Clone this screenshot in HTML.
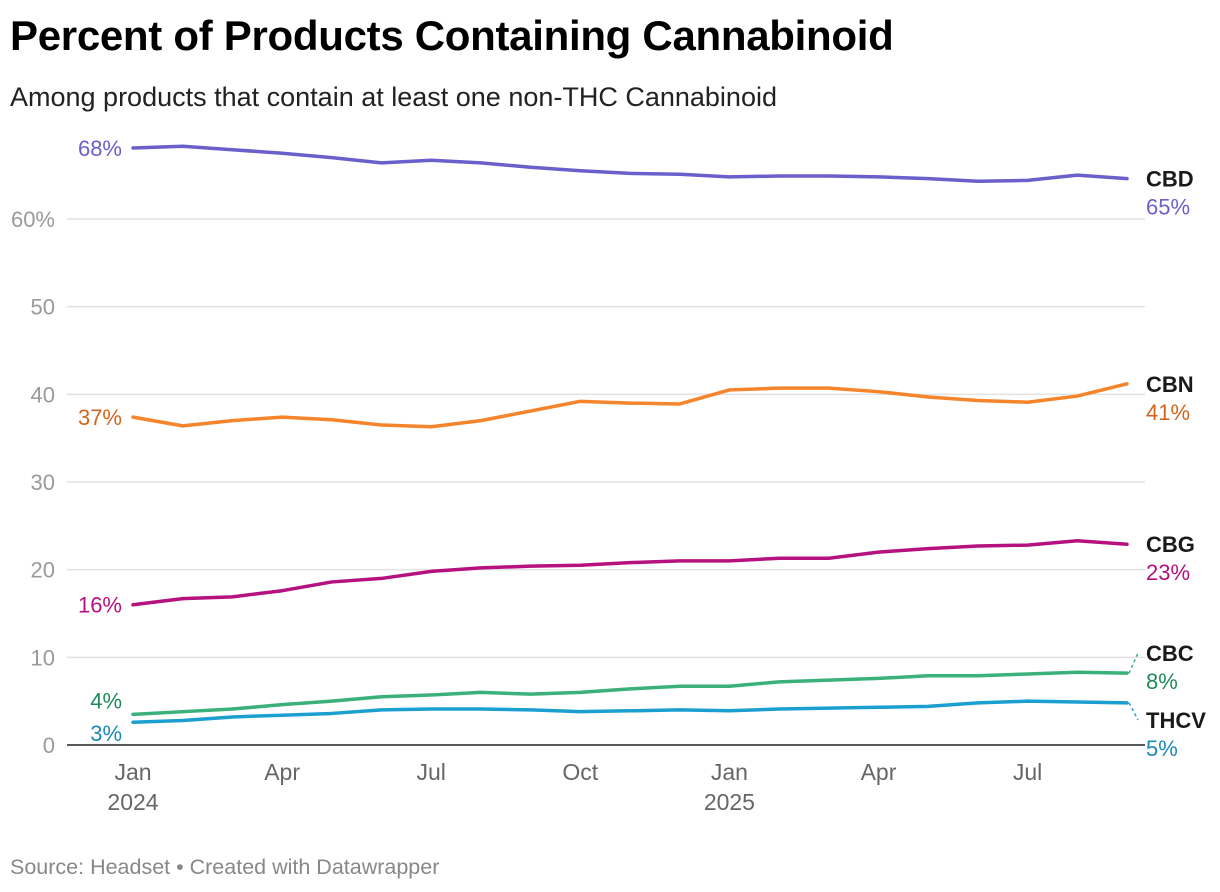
<!DOCTYPE html>
<html><head><meta charset="utf-8">
<style>
html,body{margin:0;padding:0;background:#fff;}
body{width:1220px;height:892px;overflow:hidden;font-family:"Liberation Sans",Arial,sans-serif;position:relative;}
h1{position:absolute;left:10px;top:12px;margin:0;font-size:42px;font-weight:700;color:#000;letter-spacing:-0.3px;}
.sub{position:absolute;left:10px;top:82px;font-size:27px;color:#222;}
.src{position:absolute;left:10px;top:855px;font-size:21.5px;color:#888;}
svg{position:absolute;left:0;top:0;}
</style></head><body>
<h1>Percent of Products Containing Cannabinoid</h1>
<div class="sub">Among products that contain at least one non-THC Cannabinoid</div>
<div class="src">Source: Headset • Created with Datawrapper</div>
<svg id="chart" width="1220" height="892"></svg>
<script>
const yTicks=[0,10,20,30,40,50,60];
const xTickIdx=[0,3,6,9,12,15,18];
const xTickLabels=["Jan","Apr","Jul","Oct","Jan","Apr","Jul"];
const xTickYears=["2024","","","","2025","",""];
const seriesNames=["CBD","CBN","CBG","CBC","THCV"];
const cbd=[68.1,68.3,67.9,67.5,67.0,66.4,66.7,66.4,65.9,65.5,65.2,65.1,64.8,64.9,64.9,64.8,64.6,64.3,64.4,65.0,64.6];
const cbn=[37.4,36.4,37.0,37.4,37.1,36.5,36.3,37.0,38.1,39.2,39.0,38.9,40.5,40.7,40.7,40.3,39.7,39.3,39.1,39.8,41.2];
const cbg=[16.0,16.7,16.9,17.6,18.6,19.0,19.8,20.2,20.4,20.5,20.8,21.0,21.0,21.3,21.3,22.0,22.4,22.7,22.8,23.3,22.9];
const cbc=[3.5,3.8,4.1,4.6,5.0,5.5,5.7,6.0,5.8,6.0,6.4,6.7,6.7,7.2,7.4,7.6,7.9,7.9,8.1,8.3,8.2];
const thcv=[2.6,2.8,3.2,3.4,3.6,4.0,4.1,4.1,4.0,3.8,3.9,4.0,3.9,4.1,4.2,4.3,4.4,4.8,5.0,4.9,4.8];

const svg=document.getElementById('chart');
const NS='http://www.w3.org/2000/svg';
const x=i=>133+i*(1127-133)/20;
const y=v=>745-v*8.767;
function mk(tag,attrs,parent){const e=document.createElementNS(NS,tag);for(const k in attrs)e.setAttribute(k,attrs[k]);(parent||svg).appendChild(e);return e;}

yTicks.forEach(t=>{
  if(t>0){const g=mk('line',{x1:67,x2:1145,y1:y(t),y2:y(t),stroke:'#e2e2e2','stroke-width':1.5});
  
  }
  const tx=mk('text',{x:55,y:y(t)+8,'text-anchor':'end','font-size':22,fill:'#9a9a9a'});
  tx.textContent=t===60?'60%':String(t);
  
  
});
const base=mk('line',{x1:67,x2:1145,y1:y(0),y2:y(0),stroke:'#222','stroke-width':1.5});


xTickIdx.forEach((idx,k)=>{
  const t=mk('text',{x:x(idx),y:780,'text-anchor':'middle','font-size':23,fill:'#666'});
  t.textContent=xTickLabels[k];
  
  
  if(xTickYears[k]){const t2=mk('text',{x:x(idx),y:810,'text-anchor':'middle','font-size':23,fill:'#666'});
  t2.textContent=xTickYears[k];
  
  }
});

const data=[cbd,cbn,cbg,cbc,thcv];
const colors=['#6a5fcb','#f5842a','#b5127f','#3bb07a','#1a9fd0'];
const textColors=['#6a5fcb','#d2651c','#b5127f','#1e8a5a','#1b8ab8'];
const nameDy=[0,0,0,-20,17];
data.forEach((d,s)=>{
  const p=mk('path',{d:d.map((v,i)=>(i?'L':'M')+x(i)+','+y(v)).join(' '),fill:'none',stroke:colors[s],'stroke-width':3.5,'stroke-linejoin':'round','stroke-linecap':'round'});
  
  
  const last=d[d.length-1], ly=y(last)+nameDy[s];
  if(nameDy[s]){const c=mk('line',{x1:x(20)+2,y1:y(last),x2:1138,y2:ly,stroke:colors[s],'stroke-width':1.5,'stroke-dasharray':'3,3'});
  
  }
  const n=mk('text',{x:1146,y:ly+8,'font-size':22,'font-weight':700,fill:'#1a1a1a'});
  n.textContent=seriesNames[s];
  
  
  const v=mk('text',{x:1146,y:ly+36,'font-size':22,fill:textColors[s]});
  v.textContent=Math.round(last)+'%';
  
  
  const sv=mk('text',{x:122,y:y(d[0])+(s===3?-6:s===4?19:8),'text-anchor':'end','font-size':22,fill:textColors[s]});
  sv.textContent=Math.round(d[0])+'%';
  
  
});
</script>
</body></html>
